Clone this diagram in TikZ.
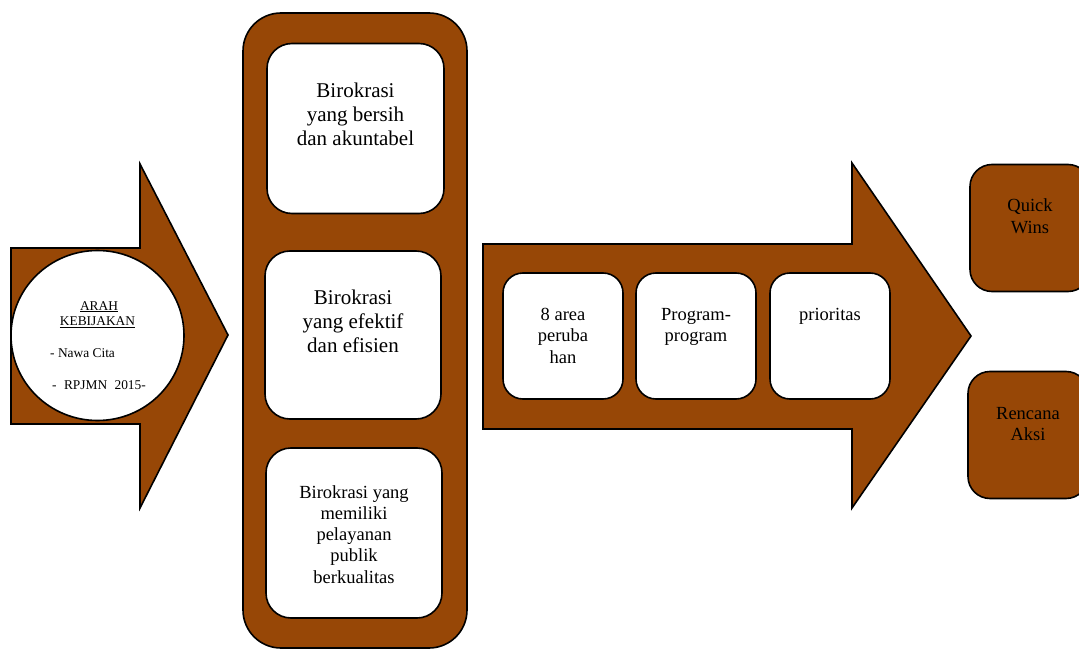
\documentclass[tikz,border=0pt]{standalone}
\usepackage{fontspec}
\usetikzlibrary{shapes.geometric}
\setmainfont{Liberation Serif}
\definecolor{rust}{RGB}{151,71,6}
\begin{document}
\begin{tikzpicture}[x=1pt,y=-1pt,
  shape line/.style={draw=black,line width=1.6pt,line join=miter},
  whitebox/.style={shape line,fill=white,rectangle,rounded corners=25pt,inner sep=0pt},
  smallbox/.style={shape line,fill=white,rectangle,rounded corners=20pt,inner sep=0pt,
    minimum width=120pt,minimum height=126pt},
  rustbox/.style={shape line,fill=rust,rectangle,rounded corners=22pt,inner sep=0pt,
    minimum width=120pt,minimum height=127pt},
  % multi-line labels are placed by the baseline of their last line
  bigtext/.style={font=\fontsize{21}{24}\selectfont,align=center,inner sep=0pt,anchor=base},
  midtext/.style={font=\fontsize{18.5}{21.5}\selectfont,align=center,inner sep=0pt,anchor=base},
  smalltext/.style={font=\fontsize{13.4}{16}\selectfont,inner sep=0pt}]
\useasboundingbox (0,0) rectangle (1079,650);
\clip (0,0) rectangle (1079,650);

% left block arrow
\draw[shape line,fill=rust] (11,248) -- (140,248) -- (140,164) -- (228,335)
  -- (140,508) -- (140,424) -- (11,424) -- cycle;
\node[shape line,fill=white,ellipse,minimum width=173pt,minimum height=170pt,inner sep=0pt]
  (circle) at (97.5,335.5) {};
\node[smalltext,anchor=base] (arah) at (99,310) {\underline{ARAH}};
\node[smalltext,anchor=base] (kebijakan) at (97.5,325.7) {\underline{KEBIJAKAN}};
\node[smalltext,anchor=base west] (nawa) at (50,357) {- Nawa Cita};
\node[smalltext,anchor=base west] (rpjmn) at (52,389)
  {-\hspace{0.55em}RPJMN\hspace{0.55em}2015-};

% tall column
\draw[shape line,fill=rust,rounded corners=38pt] (243,13) rectangle (467,648);
\node[whitebox,minimum width=177pt,minimum height=170pt] (b1) at (355.5,128.5) {};
\node[bigtext] (t1) at (355.5,145.7) {Birokrasi\\yang bersih\\dan akuntabel};
\node[whitebox,minimum width=176pt,minimum height=168pt] (b2) at (353,335) {};
\node[bigtext] (t2) at (353,352) {Birokrasi\\yang efektif\\dan efisien};
\node[whitebox,minimum width=176pt,minimum height=170pt] (b3) at (354,533) {};
\node[midtext,font=\fontsize{18.5}{21.3}\selectfont] (t3) at (354,583.2)
  {Birokrasi yang\\memiliki\\pelayanan\\publik\\berkualitas};

% right block arrow
\draw[shape line,fill=rust] (483,244) -- (852,244) -- (852,163) -- (971,336)
  -- (852,508) -- (852,429) -- (483,429) -- cycle;
\node[smallbox] (a1) at (563,336) {};
\node[midtext] (ta1) at (563,363) {8 area\\peruba\\han};
\node[smallbox] (a2) at (696,336) {};
\node[midtext] (ta2) at (696,341.5) {Program-\\program};
\node[smallbox] (a3) at (830,336) {};
\node[midtext] (ta3) at (830,320) {prioritas};

% outcome boxes
\node[rustbox] (quick) at (1030,228) {};
\node[midtext] (tq) at (1030,233.2) {Quick\\Wins};
\node[rustbox] (aksi) at (1028,435) {};
\node[midtext] (tr) at (1028,440.5) {Rencana\\Aksi};
\end{tikzpicture}
\end{document}
